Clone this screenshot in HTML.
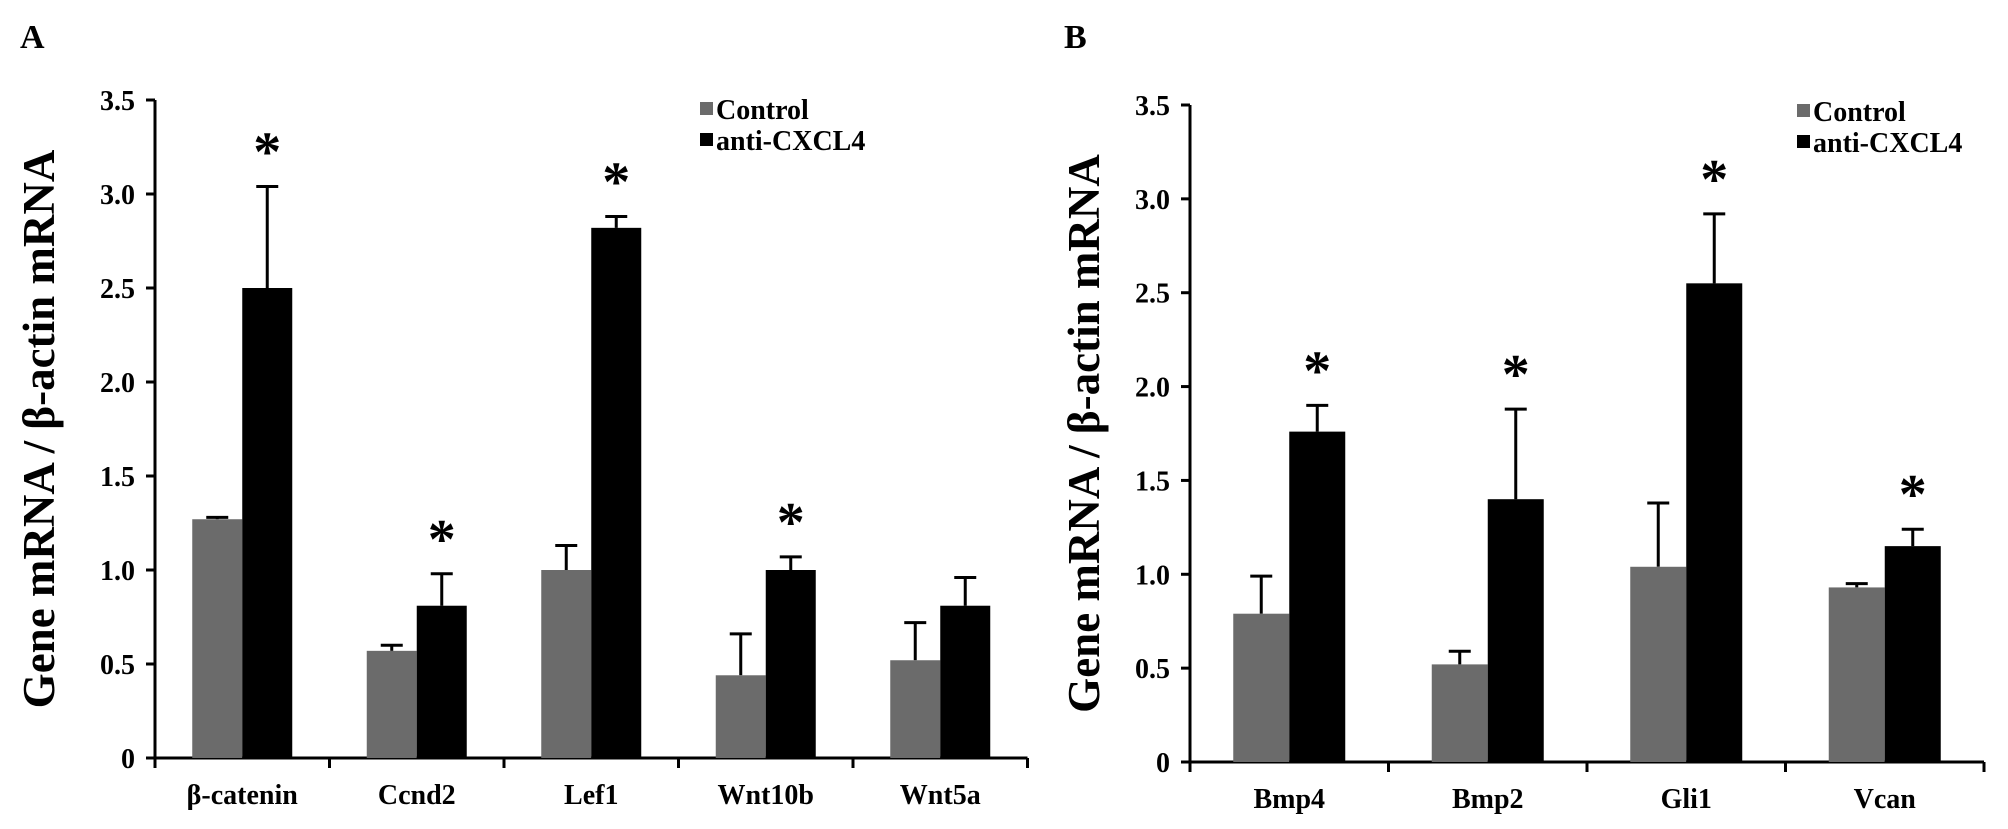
<!DOCTYPE html>
<html><head><meta charset="utf-8"><style>
html,body{margin:0;padding:0;background:#fff;}
svg{display:block;font-family:"Liberation Serif","DejaVu Serif",serif;font-weight:bold;}
</style></head><body>
<svg id="fig" width="2008" height="829" viewBox="0 0 2008 829"></svg>
<script>
const catsA = ["β-catenin","Ccnd2","Lef1","Wnt10b","Wnt5a"];
const ctrlA = [1.27,0.57,1.00,0.44,0.52];
const ctrlErrA = [1.28,0.60,1.13,0.66,0.72];
const antiA = [2.50,0.81,2.82,1.00,0.81];
const antiErrA = [3.04,0.98,2.88,1.07,0.96];
const starsA = [true,true,true,true,false];

const catsB = ["Bmp4","Bmp2","Gli1","Vcan"];
const ctrlB = [0.79,0.52,1.04,0.93];
const ctrlErrB = [0.99,0.59,1.38,0.95];
const antiB = [1.76,1.40,2.55,1.15];
const antiErrB = [1.90,1.88,2.92,1.24];
const starsB = [true,true,true,true];

const yTicks = [0,0.5,1.0,1.5,2.0,2.5,3.0,3.5];
const yTickLabels = ["0","0.5","1.0","1.5","2.0","2.5","3.0","3.5"];

const NS="http://www.w3.org/2000/svg";
const svg=document.getElementById('fig');
function mk(tag,attrs,parent){const e=document.createElementNS(NS,tag);for(const k in attrs)e.setAttribute(k,attrs[k]);(parent||svg).appendChild(e);return e;}

function panel(p){
  const g=mk('g',{});
  
  
  const y=v=>p.y0-(v/3.5)*(p.y0-p.yTop);
  const n=p.cats.length;
  const xEnd=p.x0+n*p.cw;
  const L=mk('text',{x:p.lx,y:48,'font-size':34},g);L.textContent=p.letter;
  
  
  const t=mk('text',{x:0,y:0,'font-size':45,'text-anchor':'middle',transform:`translate(${p.tx},${(p.yTop+p.y0)/2}) rotate(-90)`},g);
  t.textContent="Gene mRNA / β-actin mRNA";
  
  
  const ax=mk('path',{d:`M${p.x0},${y(3.5)} V${p.y0} H${xEnd}`,stroke:'#000','stroke-width':3,fill:'none'},g);
  
  
  yTicks.forEach((v,i)=>{
    const tk=mk('line',{x1:p.x0-9,x2:p.x0,y1:y(v),y2:y(v),stroke:'#000','stroke-width':3},g);
    
    
    const tl=mk('text',{x:p.x0-20,y:y(v)+10,'font-size':28,'text-anchor':'end'},g);
    tl.textContent=yTickLabels[i];
    
    
  });
  for(let i=0;i<=n;i++){
    const tk=mk('line',{x1:p.x0+i*p.cw,x2:p.x0+i*p.cw,y1:p.y0,y2:p.y0+10,stroke:'#000','stroke-width':3},g);
    
    
  }
  p.cats.forEach((c,i)=>{
    const cs=p.x0+i*p.cw, bw=p.bw, off=(p.cw-2*bw)/2;
    const series=[[p.ctrl[i],p.ctrlErr[i],'#6b6b6b','control'],[p.anti[i],p.antiErr[i],'#000','anti-cxcl4']];
    series.forEach((s,j)=>{
      const bx=cs+off+j*bw, cx=bx+bw/2;
      const err=mk('path',{d:`M${cx},${y(s[0])} V${y(s[1])} M${cx-11},${y(s[1])} H${cx+11}`,stroke:'#000','stroke-width':3,fill:'none'},g);
      
      
      const r=mk('rect',{x:bx,y:y(s[0]),width:bw,height:p.y0-y(s[0]),fill:s[2]},g);
      
      
      if(j===1&&p.stars[i]){
        const st=mk('text',{x:cx,y:y(s[1])-16,'font-size':56,'text-anchor':'middle'},g);
        st.textContent="*";
        
        
      }
    });
    const cl=mk('text',{x:cs+p.cw/2,y:p.y0+46,'font-size':28,'text-anchor':'middle'},g);
    cl.textContent=c;
    
    
  });
  [['Control','#6b6b6b',0],['anti-CXCL4','#000',1]].forEach(l=>{
    const ly=p.legY+l[2]*31;
    const sq=mk('rect',{x:p.legX,y:ly-17,width:13,height:13,fill:l[1]},g);
    
    
    const lt=mk('text',{x:p.legX+16,y:ly,'font-size':28},g);
    lt.textContent=l[0];
    
    
  });
}
panel({id:'a',letter:'A',lx:20,tx:54,x0:155,cw:174.5,bw:50,y0:758,yTop:100,cats:catsA,ctrl:ctrlA,ctrlErr:ctrlErrA,anti:antiA,antiErr:antiErrA,stars:starsA,legX:700,legY:119});
panel({id:'b',letter:'B',lx:1064,tx:1099,x0:1190,cw:198.5,bw:56,y0:762,yTop:105,cats:catsB,ctrl:ctrlB,ctrlErr:ctrlErrB,anti:antiB,antiErr:antiErrB,stars:starsB,legX:1797,legY:121});
</script>
</body></html>
